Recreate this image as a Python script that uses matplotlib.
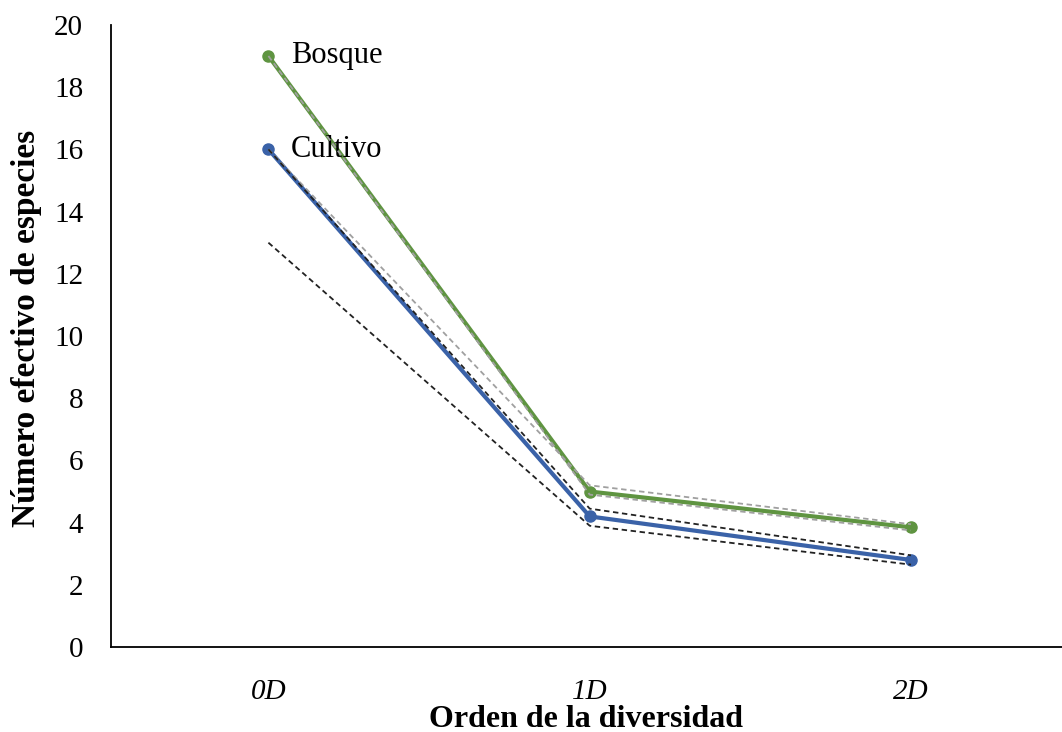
import matplotlib.pyplot as plt

# diversity orders and effective number of species
ordenes = ['0D', '1D', '2D']
bosque = [19, 5.0, 3.85]
cultivo = [16, 4.2, 2.8]

# confidence limits
bosque_sup = [16, 5.2, 3.95]
bosque_inf = [19, 4.9, 3.75]
cultivo_sup = [16, 4.45, 2.95]
cultivo_inf = [13, 3.9, 2.65]

plt.rcParams['font.family'] = ['Liberation Serif', 'DejaVu Serif']

fig = plt.figure(figsize=(10.62, 7.32), dpi=100)
ax = fig.add_axes([0.1045, 0.116, 0.8955, 0.85])

x = list(range(len(ordenes)))

green = '#5f9441'
blue = '#3a62a8'

ax.plot(x, bosque, color=green, lw=3, marker='o', ms=8, zorder=3)
ax.plot(x, cultivo, color=blue, lw=3, marker='o', ms=8, zorder=3)

ax.plot(x, bosque_sup, color='#a0a0a0', lw=1.3, ls=(0, (3, 2)), zorder=4)
ax.plot(x, bosque_inf, color='#a0a0a0', lw=1.3, ls=(0, (3, 2)), zorder=4)
ax.plot(x, cultivo_sup, color='#222222', lw=1.3, ls=(0, (3, 2)), zorder=4)
ax.plot(x, cultivo_inf, color='#222222', lw=1.3, ls=(0, (3, 2)), zorder=4)

ax.text(0.07, bosque[0], 'Bosque', fontsize=22, va='center', ha='left')
ax.text(0.07, cultivo[0], 'Cultivo', fontsize=22, va='center', ha='left')

ax.set_xlim(-0.49, 2.47)
ax.set_ylim(0, 20)
ax.set_yticks(range(0, 21, 2))
ax.set_xticks(x)
ax.set_xticklabels(ordenes, fontsize=21, style='italic')
ax.tick_params(axis='y', labelsize=21, length=0, pad=20)
ax.tick_params(axis='x', length=0, pad=23)

for s in ['top', 'right']:
    ax.spines[s].set_visible(False)
ax.spines['left'].set_linewidth(1.3)
ax.spines['bottom'].set_linewidth(1.3)

ax.set_xlabel('Orden de la diversidad', fontsize=23, fontweight='bold', labelpad=0)
ax.set_ylabel('Número efectivo de especies', fontsize=24, fontweight='bold')
ax.yaxis.set_label_coords(-0.073, 0.513)

fig.savefig('out.png', dpi=100)
